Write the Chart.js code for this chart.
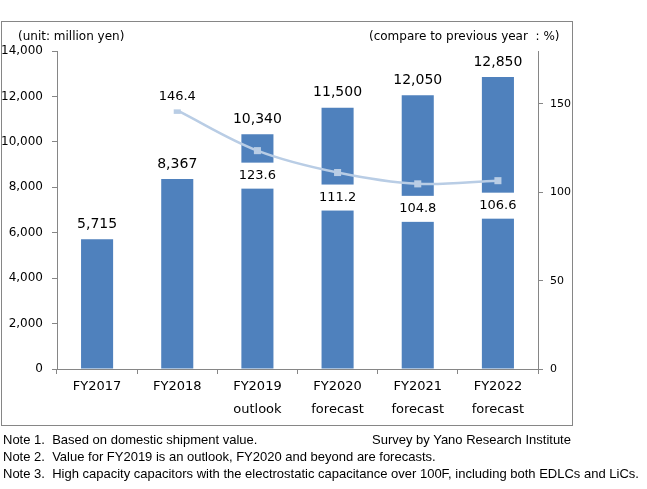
<!DOCTYPE html>
<html>
<head>
<meta charset="utf-8">
<script src="https://cdn.jsdelivr.net/npm/chart.js@4"></script>
<style>
  html, body { margin:0; padding:0; background:#fff; }
  body { width:647px; height:489px; position:relative; overflow:hidden; font-family:"DejaVu Sans", sans-serif; color:#000; }
  #frame { position:absolute; left:1px; top:21px; width:572px; height:405px; box-sizing:border-box; border:1px solid #868686; }
  #c { position:absolute; left:0; top:0; }
  .t { position:absolute; font-size:12px; white-space:nowrap; line-height:14px; }
  .note { position:absolute; left:3px; font-family:"Liberation Sans", Arial, sans-serif; font-size:13px; white-space:pre; line-height:17px; }
</style>
</head>
<body>
<div id="frame"></div>
<canvas id="c" width="647" height="489"></canvas>
<div class="t" style="left:18px; top:29px;">(unit: million yen)</div>
<div class="t" style="left:369px; top:29px;">(compare to previous year&nbsp; : %)</div>
<div class="note" style="top:431px;">Note 1.  Based on domestic shipment value.</div>
<div class="note" style="top:431px; left:372px;">Survey by Yano Research Institute</div>
<div class="note" style="top:448px;">Note 2.  Value for FY2019 is an outlook, FY2020 and beyond are forecasts.</div>
<div class="note" style="top:465px;">Note 3.  High capacity capacitors with the electrostatic capacitance over 100F, including both EDLCs and LiCs.</div>
<script>
const categories = [["FY2017"], ["FY2018"], ["FY2019", "outlook"], ["FY2020", "forecast"], ["FY2021", "forecast"], ["FY2022", "forecast"]];
const marketSize = [5715, 8367, 10340, 11500, 12050, 12850];
const yoyRatio = [null, 146.4, 123.6, 111.2, 104.8, 106.6];
const leftTicks = [0, 2000, 4000, 6000, 8000, 10000, 12000, 14000];
const rightTicks = [0, 50, 100, 150];

const FONT = "DejaVu Sans";
const AXIS = "#868686";

const labelPlugin = {
  id: 'labels',
  afterDatasetsDraw(chart) {
    const ctx = chart.ctx;
    ctx.save();
    ctx.textAlign = 'center';
    ctx.textBaseline = 'middle';
    const barMeta = chart.getDatasetMeta(0);
    ctx.font = '14px "' + FONT + '"';
    ctx.fillStyle = '#000';
    barMeta.data.forEach((el, i) => {
      ctx.fillText(marketSize[i].toLocaleString('en-US'), el.x, el.y - 15);
    });
    const lineMeta = chart.getDatasetMeta(1);
    ctx.font = '13px "' + FONT + '"';
    lineMeta.data.forEach((el, i) => {
      const v = yoyRatio[i];
      if (v === null || v === undefined) return;
      const txt = v.toFixed(1);
      const cy = (i === 1) ? el.y - 14 : el.y + 25;
      const w = ctx.measureText(txt).width + 8;
      ctx.fillStyle = '#fff';
      ctx.fillRect(el.x - w / 2, cy - 13, w, 26);
      ctx.fillStyle = '#000';
      ctx.fillText(txt, el.x, cy);
    });
    ctx.restore();
  }
};

new Chart(document.getElementById('c'), {
  data: {
    labels: categories,
    datasets: [
      {
        type: 'bar',
        data: marketSize,
        backgroundColor: '#4f81bd',
        categoryPercentage: 1,
        barPercentage: 0.4,
        yAxisID: 'y',
        order: 2
      },
      {
        type: 'line',
        data: yoyRatio,
        borderColor: '#b9cde5',
        backgroundColor: '#b9cde5',
        borderWidth: 2.5,
        pointStyle: 'rect',
        pointRadius: 5,
        pointBorderWidth: 0,
        tension: 0.35,
        spanGaps: false,
        yAxisID: 'y1',
        order: 1
      }
    ]
  },
  options: {
    responsive: false,
    animation: false,
    devicePixelRatio: 1,
    layout: { padding: { top: 51, left: 0, right: 0, bottom: 0 } },
    plugins: { legend: { display: false }, tooltip: { enabled: false } },
    scales: {
      x: {
        offset: true,
        grid: { display: true, drawOnChartArea: false, drawTicks: true, tickLength: 5, color: AXIS, offset: true },
        border: { display: true, color: AXIS },
        ticks: { color: '#000', font: { family: FONT, size: 13, lineHeight: 1.7 }, padding: 2, maxRotation: 0, autoSkip: false },
        afterFit(s) { s.height = 120; }
      },
      y: {
        position: 'left',
        min: 0, max: 14000,
        afterBuildTicks(s) { s.ticks = leftTicks.map(v => ({ value: v })); },
        grid: { display: true, drawOnChartArea: false, drawTicks: true, tickLength: 5, color: AXIS },
        border: { display: true, color: AXIS },
        ticks: { color: '#000', font: { family: FONT, size: 12 }, padding: 9, callback: v => v.toLocaleString('en-US') },
        afterFit(s) { s.width = 57; }
      },
      y1: {
        position: 'right',
        min: 0, max: 180,
        afterBuildTicks(s) { s.ticks = rightTicks.map(v => ({ value: v })); },
        grid: { display: true, drawOnChartArea: false, drawTicks: true, tickLength: 5, color: AXIS },
        border: { display: true, color: AXIS },
        ticks: { color: '#000', font: { family: FONT, size: 11 }, padding: 7 },
        afterFit(s) { s.width = 109; }
      }
    }
  },
  plugins: [labelPlugin]
});
</script>
</body>
</html>
